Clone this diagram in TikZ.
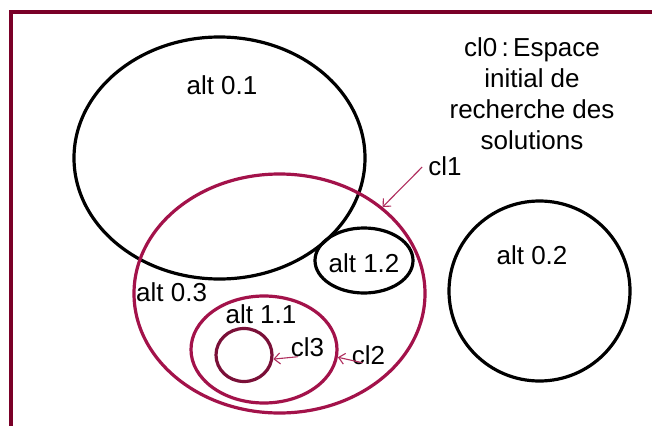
\documentclass[tikz,border=0pt]{standalone}
\usepackage{fontspec}
\setmainfont{Liberation Sans}
\usetikzlibrary{shapes.geometric,arrows.meta}
\definecolor{framered}{HTML}{7A0028}
\definecolor{setred}{HTML}{A3124A}
\definecolor{innerred}{HTML}{7A1038}
\definecolor{arrowred}{HTML}{B02E5E}
\begin{document}
\begin{tikzpicture}[x=1pt,y=-1pt,
  every node/.style={font=\fontsize{26}{31}\selectfont},
  blackset/.style={ellipse,draw=black,line width=3.2pt,inner sep=0pt},
  redset/.style={ellipse,draw=setred,line width=3.2pt,inner sep=0pt},
  lbl/.style={inner sep=1pt},
  pointer/.style={draw=arrowred,line width=1.1pt,-{Straight Barb[length=6pt,width=11pt]}}]
\useasboundingbox (0,0) rectangle (652,425);
\fill[white] (0,0) rectangle (652,425);
% frame
\draw[framered,line width=4pt] (11,427) -- (11,12.5) -- (654,12.5);
% sets
\node[blackset,minimum width=291pt,minimum height=242pt] (a01) at (219.5,158) {};
\node[redset,minimum width=291pt,minimum height=239pt] (c1) at (279.5,293.5) {};
\node[blackset,minimum width=98pt,minimum height=65pt] (a12) at (364,260.5) {};
\node[blackset,minimum width=181pt,minimum height=180pt] (a02) at (539.5,291) {};
\node[redset,minimum width=146pt,minimum height=107pt] (c2) at (264,349.5) {};
\node[ellipse,draw=innerred,line width=3.2pt,inner sep=0pt,minimum width=56pt,minimum height=53pt] (c3) at (244,355) {};
% labels
\node[lbl] (t01) at (222,85) {alt 0.1};
\node[lbl,align=center] (t0) at (532,94) {cl0\,:\,Espace\\initial de\\recherche des\\solutions};
\node[lbl] (t1) at (445,166) {cl1};
\node[lbl] (t12) at (364,263) {alt 1.2};
\node[lbl] (t02) at (532,255) {alt 0.2};
\node[lbl,anchor=west] (t03) at (135,292) {alt 0.3};
\node[lbl] (t11) at (261,314) {alt 1.1};
\node[lbl] (t3) at (307.5,347) {cl3};
\node[lbl] (t2) at (368.5,355) {cl2};
% pointers
\draw[pointer] ([xshift=-5pt,yshift=-1pt]t1.west) -- (c1.40);
\draw[pointer] ([xshift=8pt,yshift=1pt]t3.south west) -- (c3.-8);
\draw[pointer] ([xshift=-6pt,yshift=3pt]t2.south) -- (c2.-6);
\end{tikzpicture}
\end{document}
